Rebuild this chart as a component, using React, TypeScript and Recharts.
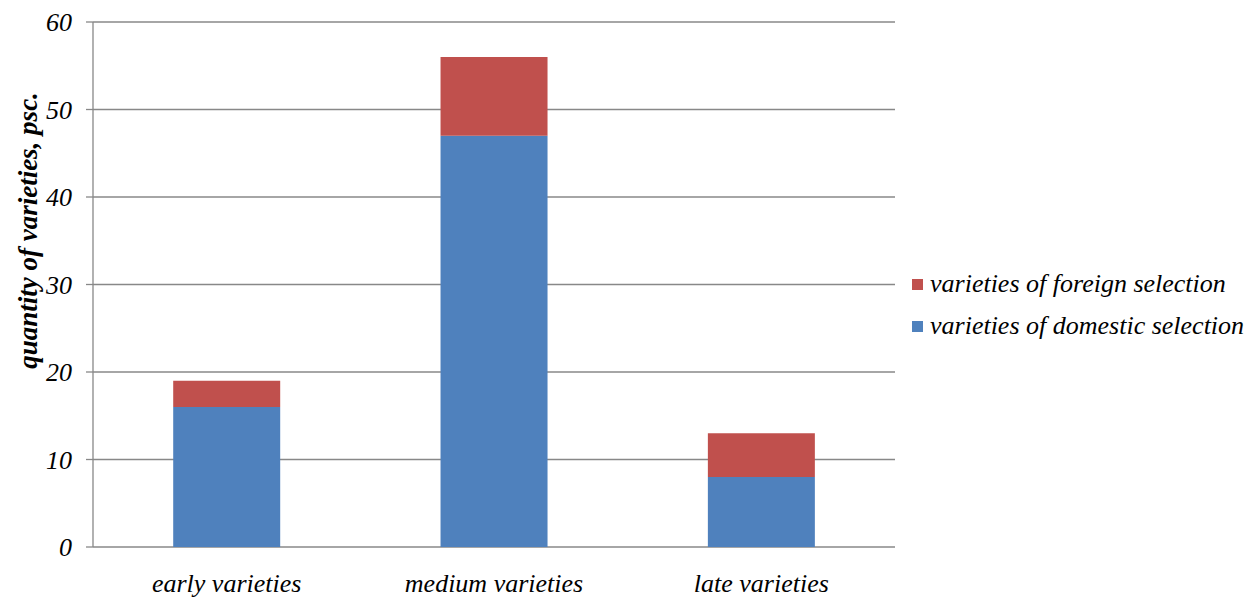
import { BarChart, Bar, XAxis, YAxis, CartesianGrid, Label } from 'recharts';

const categories = ['early varieties', 'medium varieties', 'late varieties'];
const domestic = [16, 47, 8];
const foreign = [3, 9, 5];
const yTicks = [0, 10, 20, 30, 40, 50, 60];
const boundaryTicks = [0, 1, 2, 3];

const data = categories.map((name, i) => ({
  name,
  domestic: domestic[i],
  foreign: foreign[i],
}));

const FONT = '"Liberation Serif", "Times New Roman", serif';
const GRID = '#888888';

// legend drawn top-down: foreign first, like the source
const legendItems = [
  { label: 'varieties of foreign selection', color: '#C0504D' },
  { label: 'varieties of domestic selection', color: '#4F81BD' },
];

function LegendBox() {
  return (
    <div
      style={{
        position: 'absolute',
        left: 912,
        top: 263,
        fontFamily: FONT,
        fontStyle: 'italic',
        fontSize: 26,
        color: '#000',
      }}
    >
      {legendItems.map((it) => (
        <div key={it.label} style={{ display: 'flex', alignItems: 'center', height: 42, whiteSpace: 'nowrap' }}>
          <span style={{ display: 'inline-block', width: 11, height: 11, background: it.color, marginRight: 7 }} />
          {it.label}
        </div>
      ))}
    </div>
  );
}

export default function App() {
  return (
    <div style={{ position: 'absolute', left: 0, top: 0, width: 1245, height: 597, background: '#fff', overflow: 'hidden' }}>
      <BarChart
        width={1245}
        height={597}
        data={data}
        margin={{ top: 22, right: 350, bottom: 0, left: 0 }}
        barCategoryGap="30%"
      >
        <CartesianGrid vertical={false} stroke={GRID} strokeWidth={1.3} />
        <XAxis
          xAxisId="edges"
          type="number"
          domain={[0, 3]}
          ticks={boundaryTicks}
          tickFormatter={() => ''}
          height={0}
          tickSize={7}
          stroke={GRID}
          strokeWidth={1.3}
          allowDataOverflow
        />
        <XAxis
          dataKey="name"
          height={50}
          axisLine={false}
          tickLine={false}
          tickMargin={21}
          tick={{ fill: '#000', fontFamily: FONT, fontStyle: 'italic', fontSize: 26 }}
        />
        <YAxis
          width={93}
          domain={[0, 60]}
          ticks={yTicks}
          tickSize={7}
          tickMargin={14}
          stroke={GRID}
          strokeWidth={1.3}
          tick={{ fill: '#000', fontFamily: FONT, fontStyle: 'italic', fontSize: 26 }}
        >
          <Label
            content={({ viewBox }: any) => {
              const cx = 28;
              const cy = viewBox.y + viewBox.height / 2 - 54;
              return (
                <text
                  x={cx}
                  y={cy}
                  transform={`rotate(-90 ${cx} ${cy})`}
                  textAnchor="middle"
                  dominantBaseline="central"
                  style={{ fontFamily: FONT, fontStyle: 'italic', fontWeight: 'bold', fontSize: 27 }}
                  fill="#000"
                >
                  quantity of varieties, psc.
                </text>
              );
            }}
          />
        </YAxis>
        <Bar dataKey="domestic" stackId="a" fill="#4F81BD" name="varieties of domestic selection" isAnimationActive={false} />
        <Bar dataKey="foreign" stackId="a" fill="#C0504D" name="varieties of foreign selection" isAnimationActive={false} />
      </BarChart>
      <LegendBox />
    </div>
  );
}
